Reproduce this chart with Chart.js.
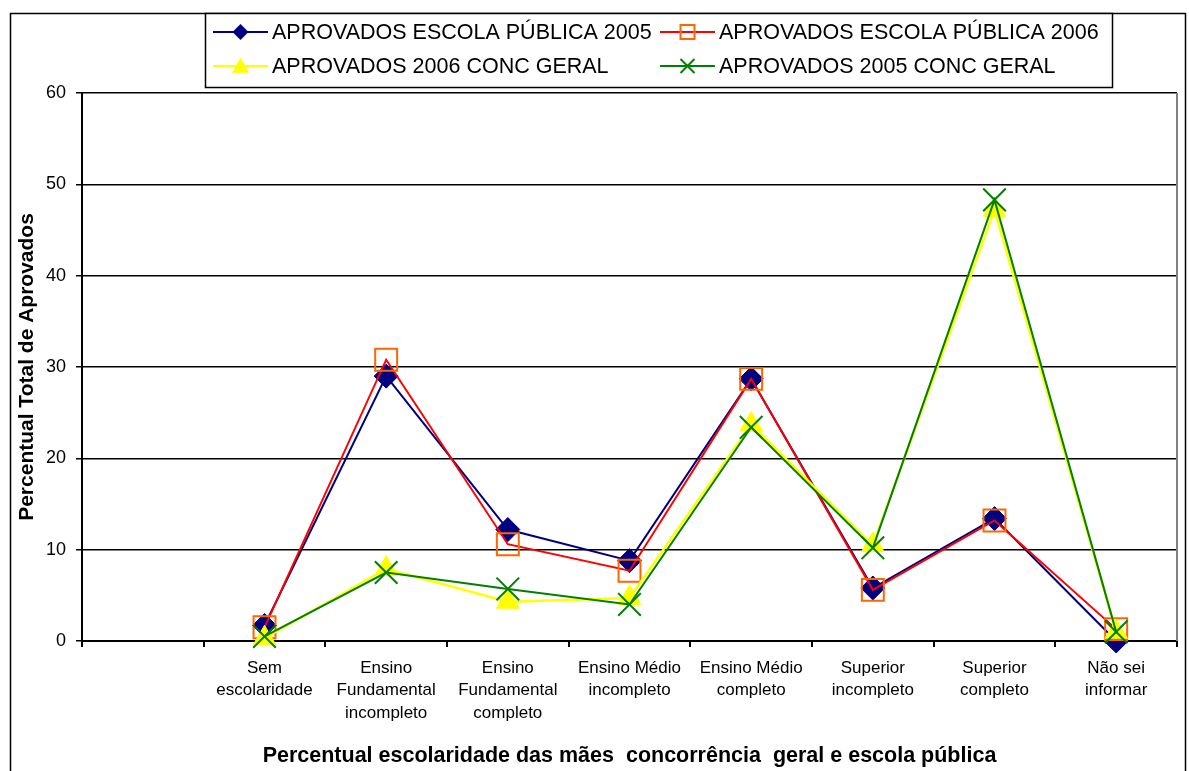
<!DOCTYPE html>
<html>
<head>
<meta charset="utf-8">
<script src="https://cdn.jsdelivr.net/npm/chart.js@4.4.1/dist/chart.umd.min.js"></script>
<style>
html,body{margin:0;padding:0;background:#fff;}
#wrap{width:1189px;height:771px;position:relative;}
</style>
</head>
<body>
<div id="wrap"><canvas id="c" width="1189" height="771"></canvas></div>
<script>
// ---- data ----
const categories = [
  '',
  ['Sem', 'escolaridade'],
  ['Ensino', 'Fundamental', 'incompleto'],
  ['Ensino', 'Fundamental', 'completo'],
  ['Ensino Médio', 'incompleto'],
  ['Ensino Médio', 'completo'],
  ['Superior', 'incompleto'],
  ['Superior', 'completo'],
  ['Não sei', 'informar']
];
const seriesNames = [
  'APROVADOS ESCOLA PÚBLICA 2005',
  'APROVADOS ESCOLA PÚBLICA 2006',
  'APROVADOS 2006 CONC GERAL',
  'APROVADOS 2005 CONC GERAL'
];
const publica2005 = [null, 1.7, 29.0, 12.2, 8.8, 28.7, 5.8, 13.4, 0.0];
const publica2006 = [null, 1.5, 30.8, 10.6, 7.7, 28.7, 5.6, 13.2, 1.3];
const geral2006   = [null, 0.3, 7.9, 4.3, 4.7, 23.7, 10.5, 47.2, 1.0];
const geral2005   = [null, 0.5, 7.5, 5.7, 4.0, 23.4, 10.2, 48.3, 1.0];
const yTicks = [0, 10, 20, 30, 40, 50, 60];
const xTitle = 'Percentual escolaridade das mães  concorrência  geral e escola pública';
const yTitle = 'Percentual Total de Aprovados';

const FONT = "'Liberation Sans', Arial, Helvetica, sans-serif";

function drawMarker(ctx, type, x, y, r, color) {
  ctx.save();
  ctx.beginPath();
  if (type === 'diamond') {
    ctx.moveTo(x, y - r); ctx.lineTo(x + r, y); ctx.lineTo(x, y + r); ctx.lineTo(x - r, y); ctx.closePath();
    ctx.fillStyle = color; ctx.fill();
  } else if (type === 'square') {
    ctx.rect(x - r, y - r, 2 * r, 2 * r);
    ctx.strokeStyle = color; ctx.lineWidth = 2; ctx.stroke();
  } else if (type === 'triangle') {
    ctx.moveTo(x, y - r); ctx.lineTo(x + r, y + r * 0.8); ctx.lineTo(x - r, y + r * 0.8); ctx.closePath();
    ctx.fillStyle = color; ctx.fill();
  } else if (type === 'x') {
    ctx.moveTo(x - r, y - r); ctx.lineTo(x + r, y + r);
    ctx.moveTo(x + r, y - r); ctx.lineTo(x - r, y + r);
    ctx.strokeStyle = color; ctx.lineWidth = 2; ctx.stroke();
  }
  ctx.restore();
}

const legendSpec = [
  {line: '#000080', marker: 'diamond', mColor: '#000080', r: 8,   x: 213, y: 32},
  {line: '#FF0000', marker: 'square',  mColor: '#FF6600', r: 7,   x: 660, y: 32},
  {line: '#FFFF00', marker: 'triangle',mColor: '#FFFF00', r: 8.5, x: 213, y: 66},
  {line: '#008000', marker: 'x',       mColor: '#008000', r: 7,   x: 660, y: 66}
];

const framePlugin = {
  id: 'frame',
  beforeDraw(chart) {
    const ctx = chart.ctx;
    ctx.save();
    ctx.fillStyle = '#fff';
    ctx.fillRect(0, 0, chart.width, chart.height);
    ctx.strokeStyle = '#000';
    ctx.lineWidth = 1.5;
    ctx.strokeRect(10.5, 13.5, 1175, 800);
    ctx.restore();
  },
  afterDraw(chart) {
    const ctx = chart.ctx;
    const a = chart.chartArea;
    ctx.save();
    ctx.strokeStyle = '#808080';
    ctx.lineWidth = 2;
    ctx.beginPath();
    ctx.moveTo(a.right, a.top);
    ctx.lineTo(a.right, a.bottom);
    ctx.stroke();
    // legend box
    ctx.fillStyle = '#fff';
    ctx.fillRect(205, 13, 908, 75);
    ctx.strokeStyle = '#000';
    ctx.lineWidth = 1.5;
    ctx.strokeRect(205.5, 13.5, 907, 74);
    ctx.font = '21.5px ' + FONT;
    ctx.textBaseline = 'middle';
    ctx.fillStyle = '#000';
    legendSpec.forEach((s, i) => {
      ctx.strokeStyle = s.line;
      ctx.lineWidth = 2;
      ctx.beginPath();
      ctx.moveTo(s.x, s.y); ctx.lineTo(s.x + 55, s.y); ctx.stroke();
      drawMarker(ctx, s.marker, s.x + 27.5, s.y, s.r, s.mColor);
      ctx.fillStyle = '#000';
      ctx.fillText(seriesNames[i], s.x + 59, s.y + 1);
    });
    ctx.restore();
  }
};

const ctx = document.getElementById('c').getContext('2d');
new Chart(ctx, {
  type: 'line',
  data: {
    labels: categories,
    datasets: [
      {label: seriesNames[0], data: publica2005, order: 4,
       borderColor: '#000080', backgroundColor: '#000080', borderWidth: 2,
       pointStyle: 'rectRot', pointRadius: 12, pointBackgroundColor: '#000080', pointBorderColor: '#000080', pointBorderWidth: 1},
      {label: seriesNames[1], data: publica2006, order: 3,
       borderColor: '#FF0000', backgroundColor: 'rgba(0,0,0,0)', borderWidth: 2,
       pointStyle: 'rect', pointRadius: 15.5, pointBackgroundColor: 'rgba(0,0,0,0)', pointBorderColor: '#FF6600', pointBorderWidth: 2},
      {label: seriesNames[2], data: geral2006, order: 2,
       borderColor: '#FFFF00', backgroundColor: '#FFFF00', borderWidth: 2.5,
       pointStyle: 'triangle', pointRadius: 13, pointBackgroundColor: '#FFFF00', pointBorderColor: '#FFFF00', pointBorderWidth: 1},
      {label: seriesNames[3], data: geral2005, order: 1,
       borderColor: '#008000', backgroundColor: '#008000', borderWidth: 2,
       pointStyle: 'crossRot', pointRadius: 16, pointBackgroundColor: '#008000', pointBorderColor: '#008000', pointBorderWidth: 2}
    ]
  },
  options: {
    responsive: false,
    devicePixelRatio: 1,
    animation: false,
    events: [],
    clip: false,
    elements: {line: {tension: 0}},
    layout: {autoPadding: false, padding: {top: 93, right: 12, bottom: 0, left: 0}},
    plugins: {legend: {display: false}, tooltip: {enabled: false}},
    scales: {
      x: {
        type: 'category',
        offset: true,
        grid: {offset: true, drawOnChartArea: false, drawTicks: true, tickLength: 6, color: '#000', lineWidth: 2},
        border: {color: '#000', width: 2},
        ticks: {autoSkip: false, maxRotation: 0, minRotation: 0, color: '#000', padding: 10,
                font: {family: FONT, size: 17, lineHeight: 1.32}},
        title: {display: true, text: xTitle, color: '#000', padding: {top: 0, bottom: 2},
                font: {family: FONT, size: 21.5, weight: 'bold'}},
        afterFit(scale) { scale.height = 130; scale.paddingRight = 0; scale.paddingLeft = 0; }
      },
      y: {
        min: 0, max: 60,
        afterBuildTicks(scale) { scale.ticks = yTicks.map(v => ({value: v})); },
        grid: {color: '#000', lineWidth: 1.5, drawTicks: true, tickLength: 6},
        border: {color: '#000', width: 2},
        ticks: {color: '#000', padding: 10, font: {family: FONT, size: 18}},
        title: {display: true, text: yTitle, color: '#000', padding: {top: 15, bottom: 0},
                font: {family: FONT, size: 21, weight: 'bold'}},
        afterFit(scale) { scale.width = 82; }
      }
    }
  },
  plugins: [framePlugin]
});
</script>
</body>
</html>
